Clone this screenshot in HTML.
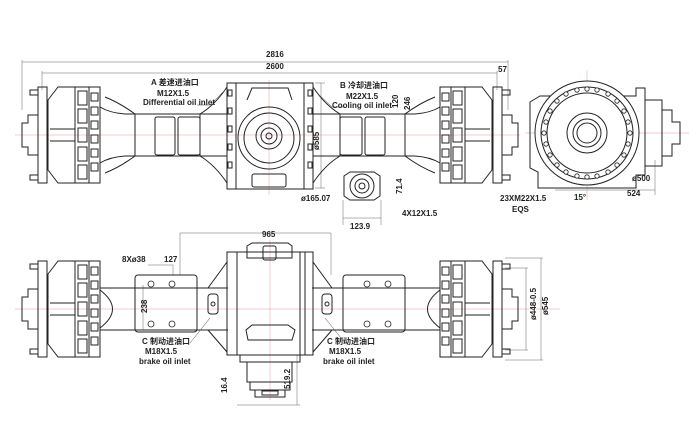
<!DOCTYPE html>
<html><head><meta charset="utf-8"><style>
html,body{margin:0;padding:0;background:#fff;}
svg{display:block}
text{font-family:"Liberation Sans","Noto Sans CJK SC",sans-serif;font-size:8px;font-weight:bold;fill:#222}
</style></head><body>
<svg width="689" height="436" viewBox="0 0 689 436" xmlns="http://www.w3.org/2000/svg">
<defs>
<g id="hub" fill="none" stroke="#222" stroke-width="1">
  <rect x="30" y="-45" width="8" height="5"/><rect x="30" y="40" width="8" height="5"/>
  <rect x="38" y="-48" width="9" height="96"/>
  <path d="M38,-20 H28 V-12 H22 V12 H28 V20 H38"/>
  <path d="M48,-35 L58,-48 H75 V48 H58 L48,35 Z"/>
  <line x1="50" y1="-6" x2="75" y2="-6"/><line x1="50" y1="6" x2="75" y2="6"/>
  <rect x="75" y="-48" width="14" height="96"/>
  <rect x="89" y="-48" width="11" height="96"/>
  <rect x="78" y="-44" width="9" height="14"/><rect x="78" y="-26" width="9" height="14"/><rect x="78" y="-7" width="9" height="14"/><rect x="78" y="12" width="9" height="14"/><rect x="78" y="30" width="9" height="14"/>
  <rect x="91" y="-42" width="7" height="8"/><rect x="91" y="-28" width="7" height="8"/><rect x="91" y="-14" width="7" height="8"/><rect x="91" y="0" width="7" height="8"/><rect x="91" y="14" width="7" height="8"/><rect x="91" y="28" width="7" height="8"/>
</g>
<g id="tubeT" fill="none" stroke="#222" stroke-width="1">
  <path d="M100,-28 Q110,-22 125,-21 H227"/>
  <path d="M100,28 Q110,22 125,21 H227"/>
  <path d="M105,-38 Q120,-32 135,-21"/><path d="M105,38 Q120,32 135,21"/>
  <rect x="155" y="-18" width="20" height="38" rx="2"/><rect x="178" y="-18" width="22" height="38" rx="2"/>
  <line x1="135" y1="-21" x2="135" y2="21"/><line x1="200" y1="-21" x2="200" y2="21"/>
  <path d="M200,-21 Q215,-30 227,-48"/><path d="M200,21 Q215,30 227,48"/>
</g>
</defs>
<!-- centerlines -->
<g stroke="#e99" stroke-width="0.5">
<line x1="15" y1="135" x2="520" y2="135"/><line x1="15" y1="309" x2="560" y2="309"/>
<line x1="525" y1="133" x2="690" y2="133"/><line x1="587" y1="70" x2="587" y2="200"/>
<line x1="269" y1="80" x2="269" y2="195"/><line x1="270" y1="240" x2="270" y2="400"/>
</g>
<!-- dims top -->
<g stroke="#666" stroke-width="0.5" fill="none">
<line x1="22" y1="62" x2="508" y2="62"/><line x1="42" y1="73" x2="497" y2="73"/>
<line x1="22" y1="60" x2="22" y2="110"/><line x1="508" y1="60" x2="508" y2="110"/>
<line x1="42" y1="71" x2="42" y2="90"/><line x1="497" y1="71" x2="497" y2="90"/>
<line x1="315" y1="83" x2="325" y2="83"/><line x1="315" y1="188" x2="325" y2="188"/>
<line x1="321" y1="83" x2="321" y2="188"/>
<line x1="343" y1="218" x2="381" y2="218"/><line x1="343" y1="200" x2="343" y2="225"/><line x1="381" y1="200" x2="381" y2="225"/>
<line x1="180" y1="233" x2="331" y2="233"/><line x1="180" y1="233" x2="180" y2="275"/><line x1="331" y1="233" x2="331" y2="275"/>
<line x1="148" y1="265" x2="173" y2="265"/><line x1="173" y1="265" x2="173" y2="275"/>
<line x1="143" y1="285" x2="143" y2="330"/>
<line x1="505" y1="258" x2="543" y2="258"/><line x1="505" y1="360" x2="543" y2="360"/><line x1="541" y1="258" x2="541" y2="360"/>
<line x1="505" y1="268" x2="528" y2="268"/><line x1="505" y1="350" x2="528" y2="350"/><line x1="526" y1="268" x2="526" y2="350"/>
<line x1="237" y1="405" x2="300" y2="405"/><line x1="297" y1="355" x2="297" y2="405"/>
<line x1="555" y1="190" x2="655" y2="190"/><line x1="655" y1="160" x2="655" y2="195"/>
</g>
<!-- top view -->
<use href="#hub" transform="translate(0,135)"/>
<use href="#hub" transform="translate(540,135) scale(-1,1)"/>
<use href="#tubeT" transform="translate(0,135)"/>
<use href="#tubeT" transform="translate(540,135) scale(-1,1)"/>
<g fill="none" stroke="#222" stroke-width="1">
<rect x="227" y="83" width="86" height="106"/>
<line x1="236" y1="83" x2="236" y2="189"/><line x1="304" y1="83" x2="304" y2="189"/>
<path d="M247,100 L252,88 H288 L292,100"/>
<circle cx="269" cy="138" r="31"/><circle cx="269" cy="138" r="25"/>
<circle cx="269" cy="136" r="13"/><circle cx="269" cy="136" r="8"/><circle cx="269" cy="136" r="3"/>
<rect x="252" y="174" width="34" height="13" rx="2"/>
<g fill="none"><rect x="228" y="90" width="4" height="6"/><rect x="228" y="108" width="4" height="6"/><rect x="228" y="126" width="4" height="6"/><rect x="228" y="144" width="4" height="6"/><rect x="228" y="162" width="4" height="6"/><rect x="308" y="90" width="4" height="6"/><rect x="308" y="108" width="4" height="6"/><rect x="308" y="126" width="4" height="6"/><rect x="308" y="144" width="4" height="6"/><rect x="308" y="162" width="4" height="6"/></g>
<!-- pinion flange -->
<path d="M344,176 L350,172 H374 L380,176 V196 L374,200 H350 L344,196 Z"/>
<circle cx="362" cy="186" r="12"/><circle cx="362" cy="186" r="7"/><circle cx="362" cy="186" r="3"/>
<!-- side view -->
<path d="M530,102 L540,96 H636 V88 H645 V175 H636 V188 H538 V172 L530,168 Z"/>
<path d="M645,100 H662 V166 H645"/><path d="M662,110 H672 V122 H680 V144 H672 V156 H662"/>
<circle cx="587" cy="133" r="52" fill="#fff"/><circle cx="587" cy="133" r="46"/><circle cx="587" cy="133" r="40"/>
<circle cx="587" cy="133" r="20"/><circle cx="587" cy="133" r="14"/><circle cx="587" cy="133" r="10"/>
</g>
<g fill="#fff" stroke="#222" stroke-width="0.8">
<circle cx="630" cy="133" r="2.2"/><circle cx="628" cy="122" r="2.2"/><circle cx="624" cy="111" r="2.2"/><circle cx="617" cy="101" r="2.2"/><circle cx="608" cy="94" r="2.2"/><circle cx="597" cy="90" r="2.2"/><circle cx="587" cy="89" r="2.2"/><circle cx="577" cy="90" r="2.2"/><circle cx="566" cy="94" r="2.2"/><circle cx="557" cy="101" r="2.2"/><circle cx="550" cy="111" r="2.2"/><circle cx="546" cy="122" r="2.2"/><circle cx="544" cy="133" r="2.2"/><circle cx="546" cy="144" r="2.2"/><circle cx="550" cy="155" r="2.2"/><circle cx="557" cy="165" r="2.2"/><circle cx="566" cy="172" r="2.2"/><circle cx="577" cy="176" r="2.2"/><circle cx="587" cy="177" r="2.2"/><circle cx="597" cy="176" r="2.2"/><circle cx="608" cy="172" r="2.2"/><circle cx="617" cy="165" r="2.2"/><circle cx="624" cy="155" r="2.2"/><circle cx="628" cy="144" r="2.2"/>
</g>
<!-- bottom view -->
<use href="#hub" transform="translate(0,309)"/>
<use href="#hub" transform="translate(540,309) scale(-1,1)"/>
<g fill="none" stroke="#222" stroke-width="1">
<path d="M100,288 H228 M100,330 H228 M312,288 H440 M312,330 H440"/>
<path d="M100,290 Q125,309 100,328 M440,290 Q415,309 440,328"/>
<rect x="135" y="275" width="62" height="57" rx="3"/><rect x="343" y="275" width="62" height="57" rx="3"/>
<path d="M208,288 L227,262 M208,330 L227,352 M332,288 L313,262 M332,330 L313,352"/>
<rect x="208" y="294" width="10" height="20" rx="3"/><rect x="322" y="294" width="10" height="20" rx="3"/>
<circle cx="213" cy="304" r="2"/><circle cx="327" cy="304" r="2"/>
<rect x="227" y="252" width="86" height="103"/>
<line x1="237" y1="252" x2="237" y2="355"/><line x1="300" y1="252" x2="300" y2="355"/><line x1="305" y1="252" x2="305" y2="355"/>
<path d="M247,258 V246 L252,243 H288 L292,246 V258 Z"/><rect x="263" y="246" width="13" height="14" rx="2"/>
<path d="M248,340 L246,330 L252,325 H288 L295,330 L292,340 Z"/>
<path d="M240,355 V362 H300 V355"/>
<rect x="247" y="362" width="45" height="20"/><rect x="250" y="382" width="40" height="8"/><rect x="255" y="390" width="30" height="7"/>
<rect x="262" y="391" width="16" height="4"/>
</g>
<g fill="#fff" stroke="#222" stroke-width="0.8">
<circle cx="151" cy="284" r="3"/><circle cx="172" cy="284" r="3"/><circle cx="151" cy="324" r="3"/><circle cx="172" cy="324" r="3"/>
<circle cx="367" cy="284" r="3"/><circle cx="388" cy="284" r="3"/><circle cx="367" cy="324" r="3"/><circle cx="388" cy="324" r="3"/>
</g>
<!-- leaders -->
<g stroke="#444" stroke-width="0.5" fill="none">
<path d="M197,105 L210,105 L225,90"/><path d="M345,107 L332,107 L316,92"/>
<path d="M190,343 L210,318"/><path d="M345,343 L325,318"/>
</g>
<!-- text -->
<text x="266" y="57" font-size="8">2816</text>
<text x="266" y="69">2600</text>
<text x="498" y="72">57</text>
<text x="151" y="85">A 差速进油口</text>
<text x="157" y="96">M12X1.5</text>
<text x="143" y="105">Differential oil inlet</text>
<text x="340" y="88">B 冷却进油口</text>
<text x="346" y="99">M22X1.5</text>
<text x="332" y="108">Cooling oil inlet</text>
<text transform="translate(398,108) rotate(-90)">120</text>
<text transform="translate(410,110) rotate(-90)">246</text>
<text transform="translate(319,150) rotate(-90)">ø585</text>
<text x="301" y="201">ø165.07</text>
<text transform="translate(402,194) rotate(-90)">71.4</text>
<text x="402" y="216">4X12X1.5</text>
<text x="350" y="229">123.9</text>
<text x="632" y="181">ø500</text>
<text x="627" y="196">524</text>
<text x="500" y="201">23XM22X1.5</text>
<text x="512" y="212">EQS</text>
<text x="574" y="200">15°</text>
<text x="262" y="237">965</text>
<text x="122" y="262">8Xø38</text>
<text x="164" y="262">127</text>
<text transform="translate(147,313) rotate(-90)">238</text>
<text x="142" y="344">C 制动进油口</text>
<text x="145" y="354">M18X1.5</text>
<text x="139" y="364">brake oil inlet</text>
<text x="327" y="344">C 制动进油口</text>
<text x="329" y="354">M18X1.5</text>
<text x="323" y="364">brake oil inlet</text>
<text transform="translate(290,389) rotate(-90)">519.2</text>
<text transform="translate(227,393) rotate(-90)">16.4</text>
<text transform="translate(536,320) rotate(-90)">ø448-0.5</text>
<text transform="translate(548,315) rotate(-90)">ø545</text>
</svg>
</body></html>
